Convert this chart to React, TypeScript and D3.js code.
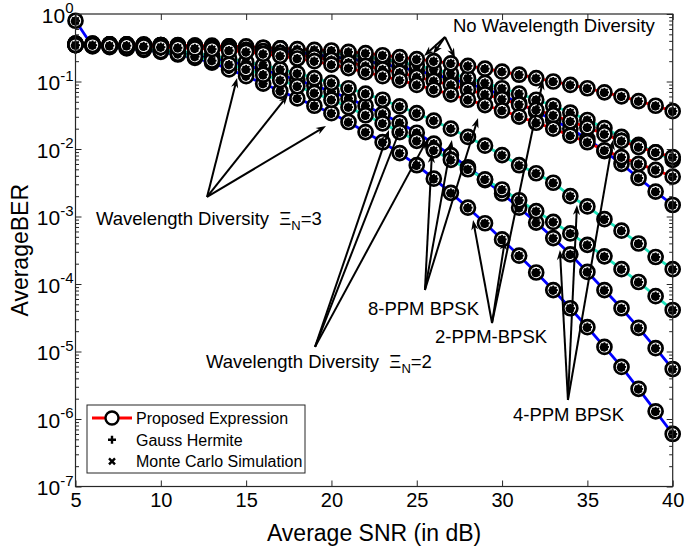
import { useEffect, useRef } from "react";
import * as d3 from "d3";

// Average SNR (dB), one marker per dB
const snrDb = [5, 6, 7, 8, 9, 10, 11, 12, 13, 14, 15, 16, 17, 18, 19, 20, 21, 22, 23, 24, 25, 26, 27, 28, 29, 30, 31, 32, 33, 34, 35, 36, 37, 38, 39, 40];

// red curves - no wavelength diversity
const noDivA = [0.363, 0.363, 0.355, 0.355, 0.355, 0.347, 0.347, 0.339, 0.339, 0.331, 0.331, 0.316, 0.309, 0.302, 0.295, 0.288, 0.275, 0.263, 0.245, 0.229, 0.214, 0.2, 0.186, 0.17, 0.155, 0.14, 0.126, 0.112, 0.1, 0.0891, 0.0794, 0.0692, 0.0603, 0.0513, 0.0437, 0.0363];
const noDivB = [0.355, 0.355, 0.355, 0.347, 0.347, 0.339, 0.331, 0.324, 0.316, 0.309, 0.295, 0.282, 0.263, 0.245, 0.229, 0.209, 0.191, 0.17, 0.151, 0.135, 0.117, 0.102, 0.0891, 0.0759, 0.0646, 0.055, 0.0457, 0.038, 0.0316, 0.0257, 0.0209, 0.0166, 0.0132, 0.0107, 0.00891, 0.00759];
const noDivC = [0.347, 0.347, 0.339, 0.339, 0.331, 0.324, 0.316, 0.309, 0.302, 0.288, 0.275, 0.257, 0.24, 0.219, 0.2, 0.178, 0.158, 0.138, 0.12, 0.105, 0.0891, 0.0759, 0.0646, 0.0537, 0.0447, 0.0372, 0.0302, 0.0245, 0.02, 0.0158, 0.0126, 0.00955, 0.00759, 0.00603, 0.0049, 0.00389];

// cyan curves - Xi_N = 2
const xi2A = [0.363, 0.355, 0.355, 0.355, 0.347, 0.347, 0.339, 0.339, 0.331, 0.331, 0.324, 0.316, 0.309, 0.295, 0.282, 0.269, 0.251, 0.234, 0.214, 0.195, 0.174, 0.151, 0.132, 0.112, 0.0955, 0.0794, 0.0661, 0.0537, 0.0437, 0.0347, 0.0269, 0.0204, 0.0151, 0.0115, 0.00891, 0.00692];
const xi2B = [0.347, 0.347, 0.339, 0.331, 0.316, 0.302, 0.282, 0.263, 0.24, 0.219, 0.195, 0.174, 0.151, 0.132, 0.112, 0.0955, 0.0794, 0.0661, 0.0537, 0.0427, 0.0339, 0.0263, 0.02, 0.0151, 0.0112, 0.00813, 0.00575, 0.00437, 0.00316, 0.002, 0.00141, 0.000912, 0.000617, 0.000398, 0.000251, 0.000166];
const xi2C = [0.347, 0.339, 0.331, 0.316, 0.302, 0.282, 0.257, 0.234, 0.204, 0.178, 0.151, 0.126, 0.105, 0.0851, 0.0676, 0.0537, 0.0417, 0.0316, 0.024, 0.0178, 0.0132, 0.00955, 0.00692, 0.00501, 0.00355, 0.00251, 0.00174, 0.0012, 0.000832, 0.000562, 0.00038, 0.000257, 0.000166, 0.000107, 0.0000661, 0.0000412];

// blue curves - Xi_N = 3
const xi3A = [0.363, 0.363, 0.355, 0.355, 0.347, 0.347, 0.339, 0.331, 0.324, 0.316, 0.309, 0.295, 0.282, 0.269, 0.251, 0.234, 0.219, 0.2, 0.182, 0.162, 0.145, 0.126, 0.11, 0.0933, 0.0776, 0.0631, 0.0479, 0.0355, 0.0269, 0.02, 0.0141, 0.00933, 0.00603, 0.00372, 0.00234, 0.00148];
const xi3B = [0.347, 0.339, 0.331, 0.324, 0.309, 0.295, 0.275, 0.251, 0.224, 0.2, 0.174, 0.148, 0.126, 0.105, 0.0871, 0.0708, 0.0562, 0.0437, 0.0331, 0.0245, 0.0174, 0.012, 0.00813, 0.00537, 0.00347, 0.00219, 0.00135, 0.000813, 0.000479, 0.000275, 0.000151, 0.0000813, 0.0000437, 0.0000224, 0.0000112, 0.0000055];
const xi3C = [0.794, 0.331, 0.324, 0.309, 0.295, 0.275, 0.251, 0.224, 0.191, 0.151, 0.12, 0.0933, 0.0724, 0.0562, 0.0437, 0.0339, 0.0251, 0.0178, 0.0126, 0.00871, 0.00575, 0.00363, 0.00224, 0.00135, 0.000794, 0.000457, 0.000263, 0.000148, 0.0000813, 0.0000437, 0.0000229, 0.0000117, 0.0000059, 0.0000028, 0.0000013, 0.0000006];

const xTicks = [5, 10, 15, 20, 25, 30, 35, 40];
const yDecades = [1e-7, 1e-6, 1e-5, 1e-4, 1e-3, 1e-2, 1e-1, 1];
const yExponents = ["-7", "-6", "-5", "-4", "-3", "-2", "-1", "0"];

const curves = [
  { values: xi3A, color: "#0000ff" },
  { values: xi3B, color: "#0000ff" },
  { values: xi3C, color: "#0000ff" },
  { values: xi2A, color: "#1fe5bd" },
  { values: xi2B, color: "#1fe5bd" },
  { values: xi2C, color: "#1fe5bd" },
  { values: noDivA, color: "#ff0000" },
  { values: noDivB, color: "#ff0000" },
  { values: noDivC, color: "#ff0000" },
];

// annotations, in data coordinates [snr, ber]
type Pt = [number, number];
const annotations: { label: string; sub?: string; after?: string; at: Pt; from: Pt; tips: Pt[] }[] = [
  { label: "No Wavelength Diversity", at: [27.12, 0.541], from: [26.655, 0.456], tips: [[25.43, 0.239], [25.96, 0.255], [27.24, 0.223]] },
  { label: "Wavelength Diversity\u00a0\u00a0\u039e", sub: "N", after: "=3", at: [6.2, 7.48e-4], from: [12.71, 1.95e-3], tips: [[14.47, 0.113], [17.45, 0.063], [19.68, 0.0219]] },
  { label: "Wavelength Diversity\u00a0\u00a0\u039e", sub: "N", after: "=2", at: [12.65, 5.7e-6], from: [19.04, 1.17e-5], tips: [[23.37, 0.0191], [24.08, 0.0212], [25.6, 0.0136]] },
  { label: "8-PPM BPSK", at: [22.14, 3.47e-5], from: [25.48, 8.15e-5], tips: [[25.89, 8.73e-3], [27.06, 0.0136], [28.59, 0.0288]] },
  { label: "2-PPM-BPSK", at: [26.07, 1.34e-5], from: [29.41, 2.64e-5], tips: [[28.3, 8.87e-4], [30.17, 4.49e-4], [32.4, 0.105]] },
  { label: "4-PPM BPSK", at: [30.64, 9.33e-7], from: [33.86, 1.91e-6], tips: [[33.39, 3.19e-4], [34.39, 1.48e-3], [36.5, 0.0136]] },
];

const legendItems = ["Proposed Expression", "Gauss Hermite", "Monte Carlo Simulation"];

const FONT = "'Liberation Sans', Arial, Helvetica, sans-serif";
const AXIS = "#262626";

export default function App() {
  const svgRef = useRef<SVGSVGElement | null>(null);

  useEffect(() => {
    if (!svgRef.current) return;
    const width = 685;
    const height = 549;
    const margin = { top: 14, right: 12.3, bottom: 62.5, left: 75.5 };

    const svg = d3.select(svgRef.current);
    svg.selectAll("*").remove();
    svg.attr("font-family", FONT);

    const x = d3.scaleLinear().domain([5, 40]).range([margin.left, width - margin.right]);
    const y = d3.scaleLog().domain([1e-7, 1]).range([height - margin.bottom, margin.top]);
    const [x0, x1] = x.range();
    const [y0, y1] = y.range();

    svg.append("rect").attr("width", width).attr("height", height).attr("fill", "white");

    // lines
    const line = d3
      .line<number>()
      .x((_, i) => x(snrDb[i]))
      .y((d) => y(d));
    curves.forEach((c) => {
      svg
        .append("path")
        .attr("d", line(c.values))
        .attr("fill", "none")
        .attr("stroke", c.color)
        .attr("stroke-width", 2.8);
    });

    // markers: circle (proposed) + "+" (Gauss Hermite) + "x" (Monte Carlo)
    const markers = svg.append("g");
    curves.forEach((c) => {
      c.values.forEach((v, i) => {
        const cx = x(snrDb[i]);
        const cy = y(v);
        const g = markers.append("g").attr("transform", `translate(${cx},${cy})`);
        g.append("circle").attr("r", 7).attr("fill", "white").attr("stroke", "black").attr("stroke-width", 2.7);
        g.append("circle").attr("cx", -0.4).attr("cy", 0.4).attr("r", 4.3).attr("fill", "black");
        g.append("path")
          .attr("d", "M-4.6,0H4.6M0,-4.6V4.6M-3.3,-3.3L3.3,3.3M-3.3,3.3L3.3,-3.3")
          .attr("stroke", "black")
          .attr("stroke-width", 1.8);
      });
    });

    // axes box and ticks
    const tickStyle = (g: d3.Selection<SVGGElement, unknown, null, undefined>) => {
      g.select(".domain").remove();
      g.selectAll("line").attr("stroke", AXIS).attr("stroke-width", 1);
      g.selectAll("text").attr("fill", "black").attr("font-size", 20).attr("font-family", FONT);
    };

    svg
      .append("g")
      .attr("transform", `translate(0,${y0})`)
      .call(d3.axisBottom(x).tickValues(xTicks).tickSizeInner(-6).tickSizeOuter(0).tickPadding(6).tickFormat(d3.format("d")))
      .call(tickStyle);
    svg
      .append("g")
      .attr("transform", `translate(0,${y1})`)
      .call(d3.axisTop(x).tickValues(xTicks).tickSizeInner(-6).tickSizeOuter(0).tickFormat(() => ""))
      .call(tickStyle);

    const minors: number[] = [];
    yDecades.slice(0, -1).forEach((d) => {
      for (let k = 2; k <= 9; k++) minors.push(d * k);
    });

    [
      { axis: d3.axisLeft, pos: x0 },
      { axis: d3.axisRight, pos: x1 },
    ].forEach(({ axis, pos }) => {
      svg
        .append("g")
        .attr("transform", `translate(${pos},0)`)
        .call(axis(y).tickValues(yDecades).tickSizeInner(-6).tickSizeOuter(0).tickFormat(() => ""))
        .call(tickStyle);
      svg
        .append("g")
        .attr("transform", `translate(${pos},0)`)
        .call(axis(y).tickValues(minors).tickSizeInner(-3.5).tickSizeOuter(0).tickFormat(() => ""))
        .call(tickStyle);
    });

    svg
      .append("rect")
      .attr("x", x0)
      .attr("y", y1)
      .attr("width", x1 - x0)
      .attr("height", y0 - y1)
      .attr("fill", "none")
      .attr("stroke", AXIS)
      .attr("stroke-width", 1.2);

    // y tick labels 10^k
    yDecades.forEach((d, i) => {
      const t = svg
        .append("text")
        .attr("x", x0 - 2)
        .attr("y", y(d) + 8.5)
        .attr("text-anchor", "end")
        .attr("font-size", 21);
      t.append("tspan").text("10");
      t.append("tspan").attr("font-size", 15).attr("dy", -9.5).text(yExponents[i]);
    });

    // axis titles
    svg
      .append("text")
      .attr("x", (x0 + x1) / 2)
      .attr("y", 541)
      .attr("text-anchor", "middle")
      .attr("font-size", 23)
      .text("Average SNR (in dB)");
    svg
      .append("text")
      .attr("transform", `translate(28,${(y0 + y1) / 2}) rotate(-90)`)
      .attr("text-anchor", "middle")
      .attr("font-size", 23)
      .text("AverageBER");

    // annotations
    const ann = svg.append("g");
    annotations.forEach((a) => {
      const ox = x(a.from[0]);
      const oy = y(a.from[1]);
      a.tips.forEach((tp) => {
        const tx = x(tp[0]);
        const ty = y(tp[1]);
        const ang = Math.atan2(ty - oy, tx - ox);
        const L = 10;
        const w = 3.6;
        const bx = tx - L * 0.7 * Math.cos(ang);
        const by = ty - L * 0.7 * Math.sin(ang);
        ann
          .append("line")
          .attr("x1", ox)
          .attr("y1", oy)
          .attr("x2", bx)
          .attr("y2", by)
          .attr("stroke", "black")
          .attr("stroke-width", 2);
        const c = Math.cos(ang);
        const s = Math.sin(ang);
        const p1 = [tx - L * c - w * s, ty - L * s + w * c];
        const p2 = [tx - L * c + w * s, ty - L * s - w * c];
        ann
          .append("path")
          .attr("d", `M${tx},${ty}L${p1[0]},${p1[1]}L${bx},${by}L${p2[0]},${p2[1]}Z`)
          .attr("fill", "black");
      });
      const t = ann
        .append("text")
        .attr("x", x(a.at[0]))
        .attr("y", y(a.at[1]))
        .attr("font-size", 18.5)
        .attr("fill", "black");
      t.append("tspan").text(a.label);
      if (a.sub) {
        t.append("tspan").attr("font-size", 13).attr("dy", 5).text(a.sub);
        t.append("tspan").attr("dy", -5).text(a.after ?? "");
      }
    });

    // legend
    const lg = svg.append("g");
    lg.append("rect")
      .attr("x", 87)
      .attr("y", 405)
      .attr("width", 218)
      .attr("height", 68)
      .attr("fill", "white")
      .attr("stroke", AXIS)
      .attr("stroke-width", 1);
    legendItems.forEach((label, i) => {
      const cy = 418 + i * 21.7;
      if (i === 0) {
        lg.append("line").attr("x1", 92).attr("x2", 132).attr("y1", cy).attr("y2", cy).attr("stroke", "#ff0000").attr("stroke-width", 2.8);
        lg.append("circle").attr("cx", 112).attr("cy", cy).attr("r", 6.5).attr("fill", "white").attr("stroke", "black").attr("stroke-width", 2.4);
      } else if (i === 1) {
        lg.append("path").attr("d", `M108,${cy}H116M112,${cy - 4}V${cy + 4}`).attr("stroke", "black").attr("stroke-width", 2.4);
      } else {
        lg.append("path").attr("d", `M109,${cy - 3}L115,${cy + 3}M109,${cy + 3}L115,${cy - 3}`).attr("stroke", "black").attr("stroke-width", 2.4);
      }
      lg.append("text").attr("x", 136).attr("y", cy + 6).attr("font-size", 16).text(label);
    });
  }, []);

  return (
    <svg
      ref={svgRef}
      width={685}
      height={549}
      viewBox="0 0 685 549"
      style={{ position: "absolute", left: 0, top: 0 }}
    ></svg>
  );
}
